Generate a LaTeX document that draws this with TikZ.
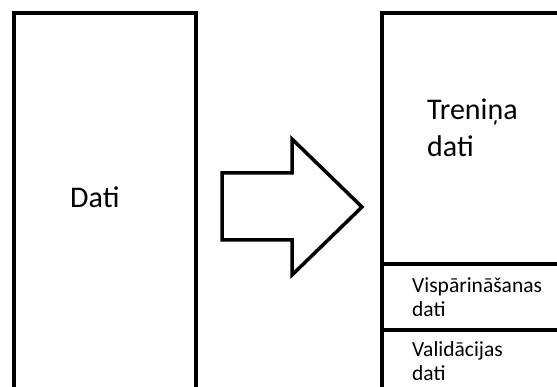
\documentclass[tikz,border=0pt]{standalone}
\usepackage{fontspec}
\setmainfont{Carlito}
\usetikzlibrary{positioning}

\tikzset{
  rahmen/.style={line width=4pt, line join=miter},
  grosstext/.style={font=\fontsize{30}{37}\selectfont, align=left, inner sep=0pt, anchor=base west},
  kleintext/.style={font=\fontsize{21.5}{24.5}\selectfont, align=left, inner sep=0pt, anchor=base west}
}

\begin{document}
\begin{tikzpicture}[x=1pt,y=-1pt]
  \useasboundingbox (0,0) rectangle (557,387);
  \clip (0,0) rectangle (557,387);

  % linker Block (alle Daten), unten offen
  \draw[rahmen] (13.5,400) -- (13.5,13.5) -- (196,13.5) -- (196,400);
  \node[grosstext] (dati) at (70,208) {Dati};

  % Blockpfeil
  \draw[line width=3.5pt, line join=miter] (222,173) -- (292,173) -- (292,139) -- (362,207)
    -- (292,275) -- (292,240) -- (222,240) -- cycle;

  % rechter Block, rechts und unten offen
  \draw[rahmen] (381.5,400) -- (381.5,13.5) -- (570,13.5);
  % Trennlinien
  \foreach \y in {264,330}
    \draw[rahmen] (381.5,\y) -- (570,\y);

  % Ankerpunkt = Grundlinie der letzten Zeile
  \node[grosstext] (trenina) at (427,157) {Treniņa\\dati};
  \node[kleintext] (visp) at (412,316.5) {Vispārināšanas\\dati};
  \node[kleintext] (valid) at (412,380.5) {Validācijas\\dati};
\end{tikzpicture}
\end{document}
